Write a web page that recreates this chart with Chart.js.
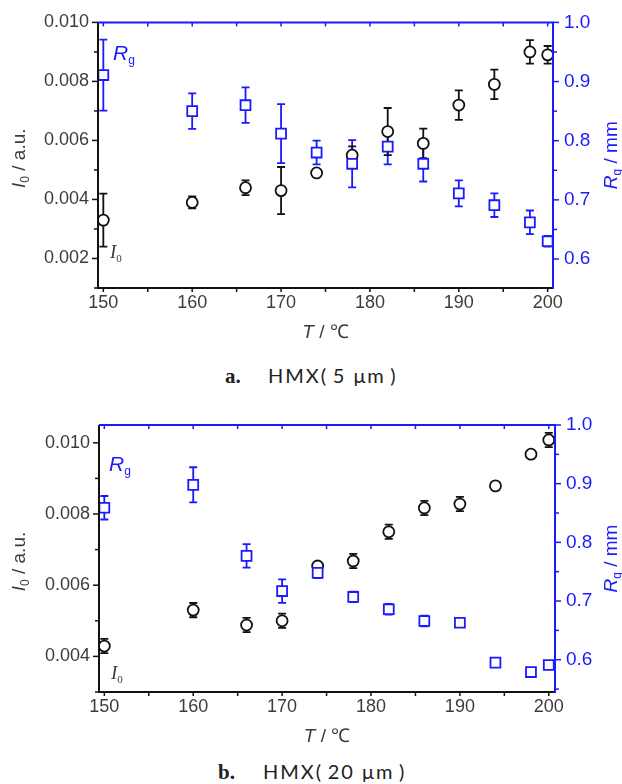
<!DOCTYPE html>
<html>
<head>
<meta charset="utf-8">
<script src="https://cdn.jsdelivr.net/npm/chart.js@4.4.1/dist/chart.umd.min.js"></script>
<style>
    body { margin: 0; background: #fff; width: 622px; height: 784px; position: relative; overflow: hidden; }
    .panel { position: absolute; left: 0; width: 622px; }
    .cap { position: absolute; font-family: "Lato", "Noto Sans", sans-serif; font-size: 20px; line-height: 20px; letter-spacing: 2px; color: #222; white-space: nowrap; }
    .cap b { font-family: "Liberation Serif", serif; font-size: 21px; letter-spacing: 0; }
</style>
</head>
<body>
<div class="panel" style="top:0"><canvas id="chartA" width="622" height="345"></canvas></div>
<div class="cap" style="left:225px;top:365px"><b>a.</b></div>
<div class="cap" style="left:268px;top:365px">HMX(&thinsp;5 μm&thinsp;)</div>
<div class="panel" style="top:400px"><canvas id="chartB" width="622" height="350"></canvas></div>
<div class="cap" style="left:218px;top:761px"><b>b.</b></div>
<div class="cap" style="left:263px;top:761px">HMX(&thinsp;20 μm&thinsp;)</div>

<script>
// temperatures (°C) shared by both panels
var temps = [150, 160, 166, 170, 174, 178, 182, 186, 190, 194, 198, 200];

// panel a - HMX 5 um
var i0A = [0.0033, 0.0039, 0.0044, 0.0043, 0.0049, 0.0055, 0.0063, 0.0059, 0.0072, 0.0079, 0.0090, 0.0089];
var i0ErrA = [0.0009, 0.0002, 0.00025, 0.0008, 0.0001, 0.0003, 0.0008, 0.0005, 0.0005, 0.0005, 0.0004, 0.0003];
var rgA = [0.911, 0.850, 0.860, 0.812, 0.780, 0.761, 0.790, 0.761, 0.711, 0.691, 0.662, 0.630];
var rgErrA = [0.06, 0.03, 0.03, 0.05, 0.02, 0.04, 0.03, 0.03, 0.022, 0.02, 0.02, 0.009];

// panel b - HMX 20 um
var i0B = [0.00429, 0.0053, 0.00488, 0.0050, 0.00654, 0.00668, 0.0075, 0.00817, 0.00828, 0.00879, 0.00968, 0.01008];
var i0ErrB = [0.0002, 0.0002, 0.0002, 0.0002, 0.0001, 0.0002, 0.0002, 0.0002, 0.0002, 0.0001, 0.0001, 0.0002];
var rgB = [0.859, 0.898, 0.777, 0.717, 0.748, 0.707, 0.686, 0.666, 0.663, 0.595, 0.579, 0.591];
var rgErrB = [0.02, 0.03, 0.02, 0.02, 0.009, 0.009, 0.009, 0.009, 0, 0, 0.006, 0];

// ticks (all tick marks) and the labelled ones
var xTicks = [150, 155, 160, 165, 170, 175, 180, 185, 190, 195, 200];
var xLabels = [150, 160, 170, 180, 190, 200];
var i0TicksA = [0.001, 0.002, 0.003, 0.004, 0.005, 0.006, 0.007, 0.008, 0.009, 0.010];
var i0LabelsA = [0.002, 0.004, 0.006, 0.008, 0.010];
var i0TicksB = [0.003, 0.004, 0.005, 0.006, 0.007, 0.008, 0.009, 0.010];
var i0LabelsB = [0.004, 0.006, 0.008, 0.010];
var rgTicks = [0.55, 0.6, 0.65, 0.7, 0.75, 0.8, 0.85, 0.9, 0.95, 1.0];
var rgLabels = [0.6, 0.7, 0.8, 0.9, 1.0];

var BLUE = "#1a1aff", BLACK = "#111111", GREY = "#3c3c3c";
var TICKFONT = "'Liberation Sans', Arial, sans-serif";

function isIn(list, v) {
    for (var i = 0; i < list.length; i++) {
        if (Math.abs(list[i] - v) < 1e-9) return true;
    }
    return false;
}

function points(vals) {
    var out = [];
    for (var i = 0; i < temps.length; i++) out.push({ x: temps[i], y: vals[i] });
    return out;
}

// draws a list of text runs (with subscripts) starting at x
function drawRuns(ctx, runs, x, y, align) {
    var total = 0, i;
    for (i = 0; i < runs.length; i++) {
        ctx.font = runs[i].f;
        total += ctx.measureText(runs[i].t).width;
    }
    if (align === "center") x -= total / 2;
    ctx.textAlign = "left";
    ctx.textBaseline = "alphabetic";
    for (i = 0; i < runs.length; i++) {
        ctx.font = runs[i].f;
        ctx.fillStyle = runs[i].c;
        ctx.fillText(runs[i].t, x, y + (runs[i].dy || 0));
        x += ctx.measureText(runs[i].t).width;
    }
}

function makeChart(id, cfg) {
    var H = cfg.height;

    var decor = {
        id: "decor",
        beforeDatasetsDraw: function (chart) {
            // error bars
            var ctx = chart.ctx, xs = chart.scales.x;
            chart.data.datasets.forEach(function (ds) {
                var ys = chart.scales[ds.yAxisID];
                ctx.save();
                ctx.strokeStyle = ds.borderColor;
                ctx.lineWidth = 1.8;
                for (var j = 0; j < ds.data.length; j++) {
                    var e = ds.err[j];
                    if (!e) continue;
                    var px = xs.getPixelForValue(ds.data[j].x);
                    var t = ys.getPixelForValue(ds.data[j].y + e);
                    var b = ys.getPixelForValue(ds.data[j].y - e);
                    ctx.beginPath();
                    ctx.moveTo(px, t); ctx.lineTo(px, b);
                    ctx.moveTo(px - 4, t); ctx.lineTo(px + 4, t);
                    ctx.moveTo(px - 4, b); ctx.lineTo(px + 4, b);
                    ctx.stroke();
                }
                ctx.restore();
            });
        },
        afterDraw: function (chart) {
            var ctx = chart.ctx, a = chart.chartArea;
            var xs = chart.scales.x, yl = chart.scales.y, yr = chart.scales.y1;
            ctx.save();
            ctx.lineWidth = 2;
            // frame
            ctx.strokeStyle = BLACK;
            ctx.beginPath();
            ctx.moveTo(a.left, a.top); ctx.lineTo(a.left, a.bottom); ctx.lineTo(a.right, a.bottom);
            ctx.stroke();
            ctx.strokeStyle = BLUE;
            ctx.beginPath();
            ctx.moveTo(a.left, a.top); ctx.lineTo(a.right, a.top); ctx.lineTo(a.right, a.bottom + 1);
            ctx.stroke();
            ctx.lineWidth = 1.5;
            // x ticks: outward at bottom, inward at top
            xTicks.forEach(function (v) {
                var px = xs.getPixelForValue(v);
                ctx.strokeStyle = BLACK;
                ctx.beginPath(); ctx.moveTo(px, a.bottom); ctx.lineTo(px, a.bottom + 4); ctx.stroke();
                ctx.strokeStyle = BLUE;
                ctx.beginPath(); ctx.moveTo(px, a.top); ctx.lineTo(px, a.top + 4); ctx.stroke();
            });
            cfg.i0Ticks.forEach(function (v) {
                var py = yl.getPixelForValue(v);
                var len = isIn(cfg.i0Labels, v) ? 6 : 4;
                ctx.strokeStyle = BLACK;
                ctx.beginPath(); ctx.moveTo(a.left, py); ctx.lineTo(a.left - len, py); ctx.stroke();
            });
            rgTicks.forEach(function (v) {
                if (v < cfg.rgMin) return;
                var py = yr.getPixelForValue(v);
                var len = isIn(rgLabels, v) ? 6 : 4;
                ctx.strokeStyle = BLUE;
                ctx.beginPath(); ctx.moveTo(a.right, py); ctx.lineTo(a.right + len, py); ctx.stroke();
            });

            // in-plot labels
            drawRuns(ctx, [
                { t: "R", f: "italic 21px 'Liberation Sans', Arial", c: BLUE },
                { t: "g", f: "12px 'Liberation Sans', Arial", c: BLUE, dy: 4 }
            ], cfg.rgLabel[0], cfg.rgLabel[1]);
            drawRuns(ctx, [
                { t: "I", f: "italic 19px 'Liberation Serif', serif", c: GREY },
                { t: "0", f: "11px 'Liberation Serif', serif", c: GREY, dy: 4 }
            ], cfg.i0Label[0], cfg.i0Label[1]);

            // axis titles
            drawRuns(ctx, [
                { t: "T", f: "italic 19px " + TICKFONT, c: GREY },
                { t: " / ℃", f: "19px " + TICKFONT, c: GREY }
            ], (a.left + a.right) / 2, a.bottom + 50, "center");

            ctx.save();
            ctx.translate(25, (a.top + a.bottom) / 2 + 3);
            ctx.rotate(-Math.PI / 2);
            drawRuns(ctx, [
                { t: "I", f: "italic 19px " + TICKFONT, c: GREY },
                { t: "0", f: "12px " + TICKFONT, c: GREY, dy: 4 },
                { t: " / a.u.", f: "19px " + TICKFONT, c: GREY }
            ], 0, 0, "center");
            ctx.restore();

            ctx.save();
            ctx.translate(617, (a.top + a.bottom) / 2);
            ctx.rotate(-Math.PI / 2);
            drawRuns(ctx, [
                { t: "R", f: "italic 19px " + TICKFONT, c: BLUE },
                { t: "g", f: "12px " + TICKFONT, c: BLUE, dy: 4 },
                { t: " / mm", f: "19px " + TICKFONT, c: BLUE }
            ], 0, 0, "center");
            ctx.restore();

            ctx.restore();
        }
    };

    return new Chart(document.getElementById(id).getContext("2d"), {
        type: "scatter",
        data: {
            datasets: [
                {
                    label: "Rg",
                    data: points(cfg.rg),
                    err: cfg.rgErr,
                    yAxisID: "y1",
                    pointStyle: "rect",
                    pointRadius: 7,
                    pointHoverRadius: 7,
                    pointBorderWidth: 1.8,
                    borderColor: BLUE,
                    backgroundColor: "#ffffff"
                },
                {
                    label: "I0",
                    data: points(cfg.i0),
                    err: cfg.i0Err,
                    yAxisID: "y",
                    pointStyle: "circle",
                    pointRadius: 5.5,
                    pointHoverRadius: 5.5,
                    pointBorderWidth: 1.8,
                    borderColor: BLACK,
                    backgroundColor: "#ffffff"
                }
            ]
        },
        options: {
            responsive: false,
            animation: false,
            events: [],
            layout: { padding: { top: cfg.top, left: 0, right: 0, bottom: 0 } },
            plugins: { legend: { display: false }, tooltip: { enabled: false } },
            scales: {
                x: {
                    type: "linear",
                    min: cfg.xMin, max: cfg.xMax,
                    afterBuildTicks: function (s) { s.ticks = xTicks.map(function (v) { return { value: v }; }); },
                    afterFit: function (s) { s.height = H - cfg.bottom; },
                    grid: { display: false, drawTicks: false },
                    border: { display: false },
                    ticks: {
                        padding: 4,
                        autoSkip: false,
                        maxRotation: 0,
                        color: GREY,
                        font: { family: TICKFONT, size: 18 },
                        callback: function (v) { return isIn(xLabels, v) ? String(v) : ""; }
                    }
                },
                y: {
                    position: "left",
                    min: cfg.i0Min, max: cfg.i0Max,
                    afterBuildTicks: function (s) { s.ticks = cfg.i0Ticks.map(function (v) { return { value: v }; }); },
                    afterFit: function (s) { s.width = cfg.left; },
                    grid: { display: false, drawTicks: false },
                    border: { display: false },
                    ticks: {
                        padding: 9,
                        autoSkip: false,
                        color: GREY,
                        font: { family: TICKFONT, size: 18 },
                        callback: function (v) { return isIn(cfg.i0Labels, v) ? v.toFixed(3) : ""; }
                    }
                },
                y1: {
                    position: "right",
                    min: cfg.rgMin, max: 1.0,
                    afterBuildTicks: function (s) {
                        s.ticks = rgTicks.filter(function (v) { return v >= cfg.rgMin; }).map(function (v) { return { value: v }; });
                    },
                    afterFit: function (s) { s.width = 622 - cfg.right; },
                    grid: { display: false, drawTicks: false },
                    border: { display: false },
                    ticks: {
                        padding: 11,
                        autoSkip: false,
                        color: BLUE,
                        font: { family: TICKFONT, size: 19 },
                        callback: function (v) { return isIn(rgLabels, v) ? v.toFixed(1) : ""; }
                    }
                }
            }
        },
        plugins: [decor]
    });
}

makeChart("chartA", {
    height: 345, top: 21, bottom: 288, left: 98, right: 553,
    xMin: 149.4, xMax: 200.6,
    i0Min: 0.001, i0Max: 0.010, rgMin: 0.551,
    i0Ticks: i0TicksA, i0Labels: i0LabelsA,
    i0: i0A, i0Err: i0ErrA, rg: rgA, rgErr: rgErrA,
    rgLabel: [113, 60], i0Label: [110, 258]
});

makeChart("chartB", {
    height: 350, top: 25, bottom: 292, left: 99, right: 555,
    xMin: 149.4, xMax: 200.7,
    i0Min: 0.003, i0Max: 0.0105, rgMin: 0.545,
    i0Ticks: i0TicksB, i0Labels: i0LabelsB,
    i0: i0B, i0Err: i0ErrB, rg: rgB, rgErr: rgErrB,
    rgLabel: [109, 71], i0Label: [111, 279]
});
</script>
</body>
</html>
